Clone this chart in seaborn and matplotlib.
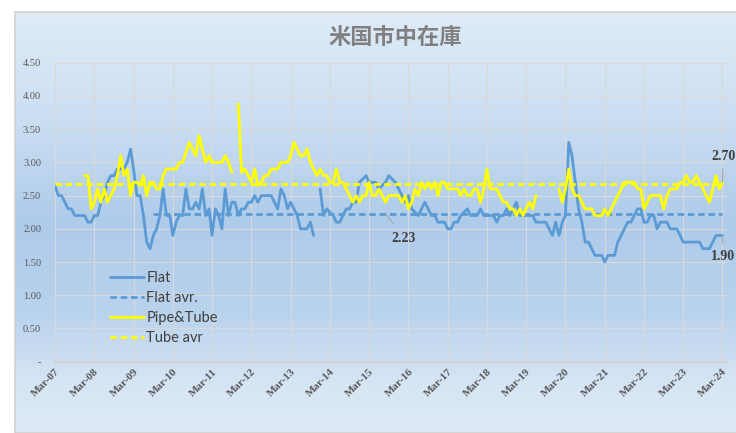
import numpy as np
import pandas as pd
import seaborn as sns
import matplotlib.pyplot as plt
from matplotlib.colors import LinearSegmentedColormap
from matplotlib.patches import Rectangle
from matplotlib.ticker import FuncFormatter

# monthly values, Mar-07 .. Mar-24 (one row = Mar..Feb)
months = pd.date_range("2007-03-01", "2024-03-01", freq="MS")

nan = np.nan
flat = [
    2.65, 2.50, 2.50, 2.40, 2.30, 2.30, 2.20, 2.20, 2.20, 2.20, 2.10, 2.10,
    2.20, 2.20, 2.40, 2.50, 2.70, 2.80, 2.80, 2.90, 2.90, 2.90, 3.00, 3.20,
    2.90, 2.50, 2.50, 2.20, 1.80, 1.70, 1.90, 2.00, 2.20, 2.60, 2.20, 2.20,
    1.90, 2.10, 2.20, 2.20, 2.60, 2.30, 2.30, 2.40, 2.30, 2.60, 2.20, 2.30,
    1.90, 2.30, 2.20, 2.00, 2.60, 2.20, 2.40, 2.40, 2.20, 2.30, 2.30, 2.40,
    2.40, 2.50, 2.40, 2.50, 2.50, 2.50, 2.50, 2.40, 2.30, 2.60, 2.50, 2.30,
    2.40, 2.30, 2.20, 2.00, 2.00, 2.00, 2.10, 1.90, nan, 2.60, 2.20, 2.30,
    2.25, 2.20, 2.10, 2.10, 2.20, 2.30, 2.30, 2.40, 2.40, 2.70, 2.75, 2.80,
    2.70, 2.70, 2.70, 2.60, 2.65, 2.70, 2.80, 2.75, 2.70, 2.60, 2.50, 2.40,
    2.50, 2.30, 2.25, 2.20, 2.30, 2.40, 2.30, 2.20, 2.20, 2.10, 2.10, 2.10,
    2.00, 2.00, 2.10, 2.10, 2.20, 2.25, 2.30, 2.20, 2.20, 2.20, 2.30, 2.20,
    2.20, 2.20, 2.20, 2.10, 2.20, 2.20, 2.30, 2.20, 2.30, 2.40, 2.20, 2.20,
    2.20, 2.20, 2.20, 2.10, 2.10, 2.10, 2.10, 2.00, 1.90, 2.10, 1.90, 2.10,
    2.20, 3.30, 3.10, 2.70, 2.30, 2.10, 1.80, 1.80, 1.70, 1.60, 1.60, 1.60,
    1.50, 1.60, 1.60, 1.60, 1.80, 1.90, 2.00, 2.10, 2.10, 2.20, 2.30, 2.30,
    2.10, 2.10, 2.20, 2.20, 2.00, 2.10, 2.10, 2.10, 2.00, 2.00, 2.00, 1.90,
    1.80, 1.80, 1.80, 1.80, 1.80, 1.80, 1.70, 1.70, 1.70, 1.80, 1.90, 1.90,
    1.90,
]
pipe_tube = [
    nan, nan, nan, nan, nan, nan, nan, nan, nan, 2.80, 2.80, 2.30,
    2.40, 2.60, 2.40, 2.60, 2.40, 2.50, 2.60, 2.80, 3.10, 2.80, 2.90, 2.50,
    2.70, 2.70, 2.65, 2.80, 2.50, 2.70, 2.70, 2.60, 2.60, 2.80, 2.90, 2.90,
    2.90, 2.90, 3.00, 3.00, 3.15, 3.30, 3.20, 3.10, 3.40, 3.20, 3.00, 3.10,
    3.00, 3.00, 3.00, 3.00, 3.10, 3.00, 2.85, nan, 3.88, 2.85, 2.90, 2.80,
    2.70, 2.90, 2.65, 2.70, 2.80, 2.80, 2.90, 2.90, 2.90, 3.00, 3.00, 3.00,
    3.10, 3.30, 3.20, 3.10, 3.10, 3.20, 3.00, 2.90, 2.80, 2.90, 2.80, 2.80,
    2.70, 2.70, 2.90, 2.70, 2.70, 2.60, 2.50, 2.40, 2.50, 2.40, 2.50, 2.50,
    2.70, 2.50, 2.50, 2.60, 2.50, 2.40, 2.50, 2.50, 2.50, 2.50, 2.40, 2.50,
    2.30, 2.40, 2.60, 2.50, 2.70, 2.60, 2.70, 2.60, 2.70, 2.50, 2.70, 2.70,
    2.60, 2.60, 2.60, 2.60, 2.50, 2.60, 2.50, 2.50, 2.60, 2.60, 2.40, 2.60,
    2.90, 2.60, 2.60, 2.60, 2.50, 2.40, 2.40, 2.30, 2.30, 2.20, 2.30, 2.20,
    2.30, 2.40, 2.30, 2.50, nan, nan, nan, nan, nan, nan, 2.60, 2.40,
    2.60, 2.90, 2.60, 2.50, 2.50, 2.40, 2.30, 2.30, 2.30, 2.20, 2.20, 2.20,
    2.30, 2.20, 2.30, 2.40, 2.50, 2.60, 2.70, 2.70, 2.70, 2.70, 2.60, 2.60,
    2.30, 2.40, 2.50, 2.50, 2.50, 2.50, 2.30, 2.50, 2.60, 2.60, 2.60, 2.70,
    2.70, 2.80, 2.70, 2.70, 2.80, 2.70, 2.60, 2.50, 2.40, 2.60, 2.80, 2.60,
    2.70,
]
flat_avr = 2.23
tube_avr = 2.67
flat_avr_start = "2009-09-01"

title = "米国市中在庫"
series_names = ["Flat", "Flat avr.", "Pipe&Tube", "Tube avr"]

W, H = 736, 433


def to_long(name, values, dates):
    s = pd.Series(values, index=dates, dtype=float)
    seg = s.isna().cumsum()
    d = pd.DataFrame({"date": dates, "value": s.values, "series": name, "seg": seg.values})
    return d.dropna()


avr_dates = months[months >= flat_avr_start]
df = pd.concat([
    to_long("Flat", flat, months),
    to_long("Flat avr.", [flat_avr] * len(avr_dates), avr_dates),
    to_long("Pipe&Tube", pipe_tube, months),
    to_long("Tube avr", [tube_avr] * len(months), months),
], ignore_index=True)

sns.set_theme(style="white")
fig = plt.figure(figsize=(W / 100, H / 100), dpi=100)
fig.patch.set_facecolor("white")

# chart box with vertical gradient
bg = fig.add_axes([15 / W, 0, 1 - 15 / W, 1 - 12 / H], zorder=-5)
cmap = LinearSegmentedColormap.from_list("bg", [
    (0.0, "#DFEBF7"), (0.25, "#CCDFF2"), (0.5, "#AECBEA"),
    (0.72, "#BAD3ED"), (0.88, "#D6E5F4"), (1.0, "#DEEAF6")])
bg.imshow(np.linspace(0, 1, 256).reshape(-1, 1), aspect="auto", cmap=cmap,
          extent=(0, 1, 0, 1))
bg.set_axis_off()
fig.add_artist(Rectangle((15 / W, 0), 1, 1 - 12 / H, transform=fig.transFigure,
                         fill=False, edgecolor="#D0D0D0", lw=1.2))

ax = fig.add_axes([55 / W, 1 - 361.7 / H, (727 - 55) / W, (361.7 - 62.7) / H])
ax.set_facecolor("none")

palette = {"Flat": "#5B9BD5", "Flat avr.": "#5B9BD5",
           "Pipe&Tube": "#FFFF00", "Tube avr": "#FFFF00"}
dashes = {"Flat": "", "Flat avr.": (2.3, 1.4), "Pipe&Tube": "", "Tube avr": (2.3, 1.4)}
sns.lineplot(data=df, x="date", y="value", hue="series", style="series",
             hue_order=series_names, style_order=series_names,
             units="seg", estimator=None, palette=palette, dashes=dashes,
             linewidth=2, ax=ax)

ax.set_xlim(pd.Timestamp("2007-03-01"), pd.Timestamp("2024-04-12"))
ax.set_ylim(0, 4.5)
ax.set_yticks(np.arange(0, 4.51, 0.5))
ax.yaxis.set_major_formatter(FuncFormatter(lambda v, p: "-" if v == 0 else f"{v:.2f}"))
xt = pd.date_range("2007-03-01", "2024-03-01", freq="12MS")
ax.set_xticks(xt)
ax.set_xticklabels([d.strftime("%b-%y") for d in xt], rotation=45, ha="right",
                   rotation_mode="anchor", family="Liberation Serif",
                   fontweight="bold", fontsize=8, color="#595959")
for lab in ax.get_yticklabels():
    lab.set_family("Liberation Serif")
    lab.set_fontsize(7.5)
    lab.set_color("#595959")
ax.tick_params(axis="both", length=0)
ax.tick_params(axis="y", pad=10)
ax.tick_params(axis="x", pad=4)
ax.grid(True, color="#D9D9D9", lw=0.8)
ax.set_axisbelow(True)
for side in ["left", "right", "top"]:
    ax.spines[side].set_visible(False)
ax.spines["bottom"].set_color("#D0D0D0")
ax.set_xlabel("")
ax.set_ylabel("")

sns.move_legend(ax, "upper left", bbox_to_anchor=(110 / W, 1 - 271 / H),
                bbox_transform=fig.transFigure, title=None, frameon=False,
                fontsize=10.5, handlelength=2.3, handletextpad=0.2,
                labelspacing=0.42, borderpad=0, borderaxespad=0)
leg = ax.get_legend()
for t in leg.get_texts():
    t.set_family("Lato")
    t.set_color("#404040")

lbl = dict(family="Liberation Serif", fontweight="bold", fontsize=10, color="#404040")
line = dict(arrowstyle="-", color="#A6A6A6", lw=0.8)
ax.annotate(f"{flat_avr:.2f}", xy=(months[101], flat_avr), xytext=(404, H - 238),
            textcoords="figure pixels", ha="center", va="center",
            arrowprops=dict(line, shrinkA=4, shrinkB=0), **lbl)
ax.annotate(f"{pipe_tube[-1]:.2f}", xy=(months[-1], pipe_tube[-1]), xytext=(711, H - 156),
            textcoords="figure pixels", ha="left", va="center",
            arrowprops=dict(line, shrinkA=2, shrinkB=0), annotation_clip=False, **lbl)
ax.annotate(f"{flat[-1]:.2f}", xy=(months[-1], flat[-1]), xytext=(711, H - 256),
            textcoords="figure pixels", ha="left", va="center",
            arrowprops=dict(line, shrinkA=2, shrinkB=0), annotation_clip=False, **lbl)

fig.text(395 / W, 1 - 37 / H, title, ha="center", va="center", fontsize=16,
         fontweight="bold", color="#808080", family="Noto Sans CJK JP")

fig.savefig("out.png", dpi=100)
